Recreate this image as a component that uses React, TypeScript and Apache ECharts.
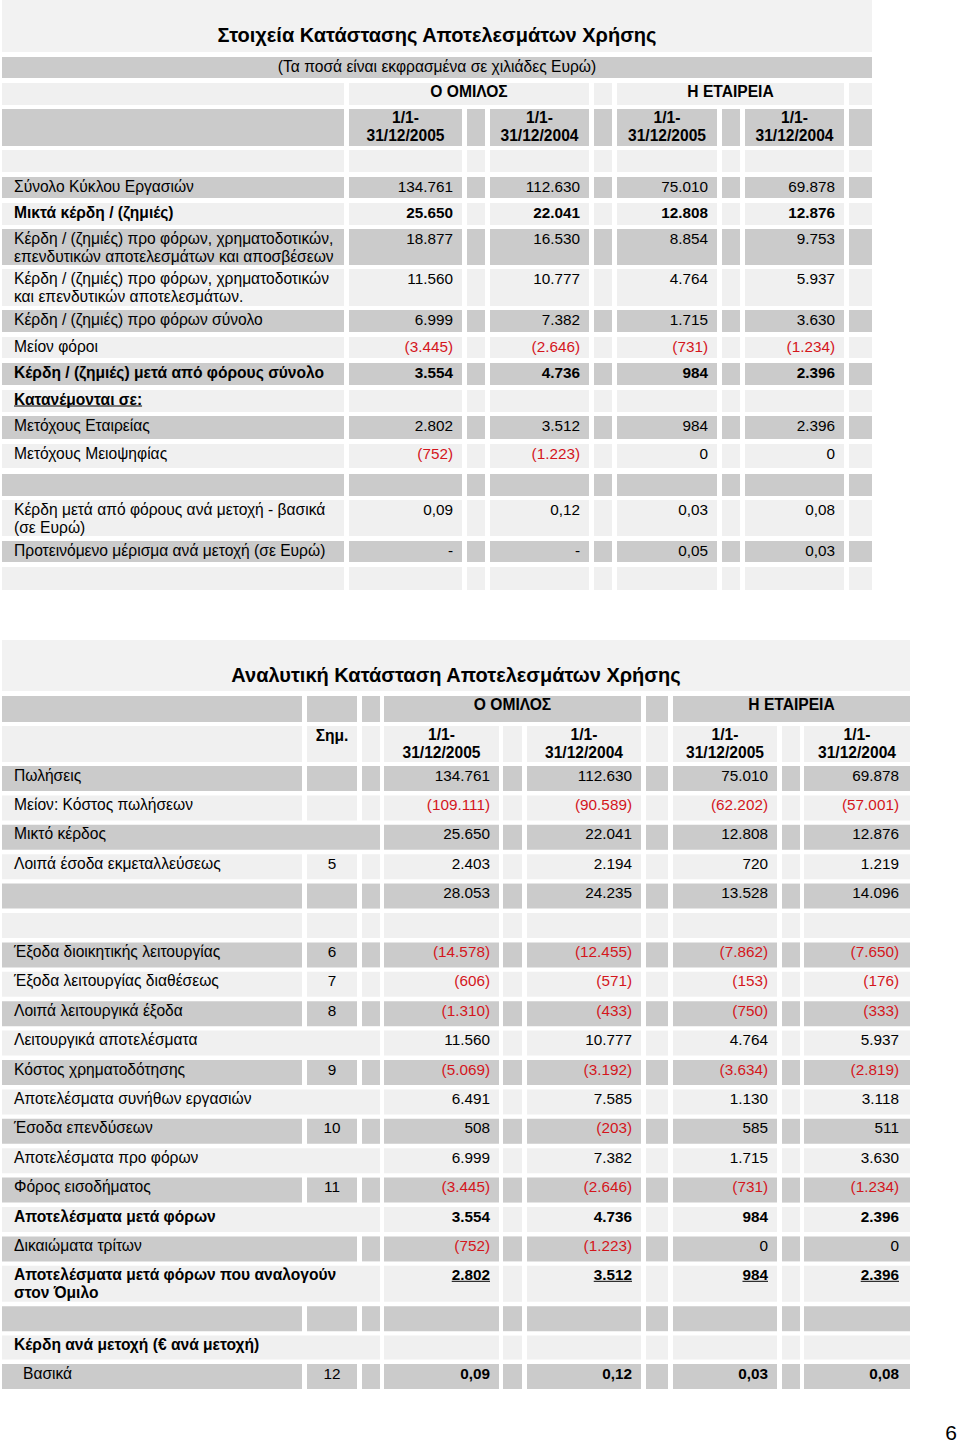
import React, { useEffect, useRef } from "react";
import * as echarts from "echarts";

const W = 960;
const H = 1442;
const FONT = '"Liberation Sans", Arial, Helvetica, sans-serif';
const DARK = "#cbcbcb";
const LIGHT = "#f0f0f0";
const TITLE_BG = "#f2f2f2";
const RED = "#d4161c";
const LABEL_SIZE = 15.6;
const VALUE_SIZE = 15.3;

// ---------- DATA: top table ----------
const topTitle = "Στοιχεία Κατάστασης Αποτελεσμάτων Χρήσης";
const topSubtitle = "(Τα ποσά είναι εκφρασμένα σε χιλιάδες Ευρώ)";
const groupNames = ["Ο ΟΜΙΛΟΣ", "Η ΕΤΑΙΡΕΙΑ"];
const periodLines = [
  ["1/1-", "31/12/2005"],
  ["1/1-", "31/12/2004"],
  ["1/1-", "31/12/2005"],
  ["1/1-", "31/12/2004"],
];
const topLabels = [
  "",
  "Σύνολο Κύκλου Εργασιών",
  "Μικτά κέρδη / (ζημιές)",
  "Κέρδη / (ζημιές) προ φόρων, χρηματοδοτικών,\nεπενδυτικών αποτελεσμάτων και αποσβέσεων",
  "Κέρδη / (ζημιές) προ φόρων, χρηματοδοτικών\nκαι επενδυτικών αποτελεσμάτων.",
  "Κέρδη / (ζημιές) προ φόρων σύνολο",
  "Μείον φόροι",
  "Κέρδη / (ζημιές) μετά από φόρους σύνολο",
  "Κατανέμονται σε:",
  "Μετόχους Εταιρείας",
  "Μετόχους Μειοψηφίας",
  "",
  "Κέρδη μετά από φόρους ανά μετοχή - βασικά\n(σε Ευρώ)",
  "Προτεινόμενο μέρισμα ανά μετοχή (σε Ευρώ)",
  "",
];
const topGroup2005 = ["", "134.761", "25.650", "18.877", "11.560", "6.999", "(3.445)", "3.554", "", "2.802", "(752)", "", "0,09", "-", ""];
const topGroup2004 = ["", "112.630", "22.041", "16.530", "10.777", "7.382", "(2.646)", "4.736", "", "3.512", "(1.223)", "", "0,12", "-", ""];
const topCompany2005 = ["", "75.010", "12.808", "8.854", "4.764", "1.715", "(731)", "984", "", "984", "0", "", "0,03", "0,05", ""];
const topCompany2004 = ["", "69.878", "12.876", "9.753", "5.937", "3.630", "(1.234)", "2.396", "", "2.396", "0", "", "0,08", "0,03", ""];

// ---------- DATA: bottom table ----------
const bottomTitle = "Αναλυτική Κατάσταση Αποτελεσμάτων Χρήσης";
const noteHeader = "Σημ.";
const bottomLabels = [
  "Πωλήσεις",
  "Μείον: Κόστος πωλήσεων",
  "Μικτό κέρδος",
  "Λοιπά έσοδα εκμεταλλεύσεως",
  "",
  "",
  "Έξοδα διοικητικής λειτουργίας",
  "Έξοδα λειτουργίας διαθέσεως",
  "Λοιπά λειτουργικά έξοδα",
  "Λειτουργικά αποτελέσματα",
  "Κόστος χρηματοδότησης",
  "Αποτελέσματα συνήθων εργασιών",
  "Έσοδα επενδύσεων",
  "Αποτελέσματα προ φόρων",
  "Φόρος εισοδήματος",
  "Αποτελέσματα μετά φόρων",
  "Δικαιώματα τρίτων",
  "Αποτελέσματα μετά φόρων που αναλογούν\nστον Όμιλο",
  "",
  "Κέρδη ανά μετοχή (€ ανά μετοχή)",
  "Βασικά",
];
const bottomNotes = ["", "", "", "5", "", "", "6", "7", "8", "", "9", "", "10", "", "11", "", "", "", "", "", "12"];
const botGroup2005 = ["134.761", "(109.111)", "25.650", "2.403", "28.053", "", "(14.578)", "(606)", "(1.310)", "11.560", "(5.069)", "6.491", "508", "6.999", "(3.445)", "3.554", "(752)", "2.802", "", "", "0,09"];
const botGroup2004 = ["112.630", "(90.589)", "22.041", "2.194", "24.235", "", "(12.455)", "(571)", "(433)", "10.777", "(3.192)", "7.585", "(203)", "7.382", "(2.646)", "4.736", "(1.223)", "3.512", "", "", "0,12"];
const botCompany2005 = ["75.010", "(62.202)", "12.808", "720", "13.528", "", "(7.862)", "(153)", "(750)", "4.764", "(3.634)", "1.130", "585", "1.715", "(731)", "984", "0", "984", "", "", "0,03"];
const botCompany2004 = ["69.878", "(57.001)", "12.876", "1.219", "14.096", "", "(7.650)", "(176)", "(333)", "5.937", "(2.819)", "3.118", "511", "3.630", "(1.234)", "2.396", "0", "2.396", "", "", "0,08"];
const pageNumber = "6";

// ---------- STYLE / LAYOUT ----------
const topBoldRows = [2, 7, 8];
const topUnderlineLabelRows = [8];
const topRowTops = [150, 177, 203, 229, 269, 310, 337, 363, 390, 416, 444, 474, 500, 541, 567];
const topRowHeights = [22, 21, 22, 36, 37, 22, 21, 22, 22, 23, 24, 22, 36, 21, 23];
const topLabelCell = [2, 344];
const topValueCells = [[349, 462], [490, 589], [617, 717], [745, 844]];
const topSpacers = [[467, 485], [594, 612], [722, 740], [849, 872]];
const topRight = 872;

const botBoldLabelRows = [15, 17, 19];
const botBoldValueRows = [15, 17, 20];
const botUnderlineValueRows = [17];
const botIndentRows = [20];
// merge: 0 = separate cells, 1 = label+note merged, 2 = label+note+spacer merged
const botMerge = [0, 0, 2, 0, 0, 0, 0, 0, 0, 2, 0, 2, 0, 2, 0, 2, 1, 2, 0, 2, 0];
const botRowHeights = [25, 25, 25, 25, 25, 25, 25, 25, 25, 25, 25, 25, 25, 25, 25, 25, 25, 36, 25, 24, 25];
const botFirstTop = 766;
const botPitch = 29.4;
const botLabelCell = [2, 302];
const botNoteCell = [307, 357];
const botNoteSpacer = [362, 380];
const botValueCells = [[384, 499], [527, 641], [673, 777], [804, 910]];
const botSpacers = [[503, 522], [646, 668], [782, 800]];
const botRight = 910;

let measureCtx: CanvasRenderingContext2D | null = null;
function measure(s: string, size: number, bold: boolean) {
  if (!measureCtx) measureCtx = document.createElement("canvas").getContext("2d");
  if (!measureCtx) return s.length * size * 0.55;
  measureCtx.font = `${bold ? "bold " : ""}${size}px ${FONT}`;
  return measureCtx.measureText(s).width;
}

function rect(x0: number, x1: number, y: number, h: number, fill: string) {
  return { type: "rect", silent: true, shape: { x: x0, y, width: x1 - x0, height: h }, style: { fill } };
}
function txt(x: number, y: number, s: string, o: any = {}) {
  return {
    type: "text",
    silent: true,
    x,
    y,
    style: {
      text: s,
      fill: o.color || "#000",
      fontSize: o.size || LABEL_SIZE,
      fontFamily: FONT,
      fontWeight: o.bold ? "bold" : "normal",
      align: o.align || "left",
      verticalAlign: "middle",
    },
  };
}
function underline(x: number, y: number, s: string, size: number, bold: boolean, align: string) {
  const w = measure(s, size, bold);
  const x0 = align === "right" ? x - w : align === "center" ? x - w / 2 : x;
  return { type: "line", silent: true, shape: { x1: x0, y1: y, x2: x0 + w, y2: y }, style: { stroke: "#000", lineWidth: 1 } };
}
const colorOf = (v: string) => (v.startsWith("(") ? RED : "#000");

function buildElements() {
  const els: any[] = [];
  // ===== TOP TABLE =====
  els.push(rect(2, topRight, 0, 52, TITLE_BG));
  els.push(txt(437, 35, topTitle, { bold: true, size: 20, align: "center" }));
  els.push(rect(2, topRight, 57, 21, DARK));
  els.push(txt(437, 66, topSubtitle, { align: "center" }));
  // group header
  {
    const y = 83, h = 22;
    els.push(rect(topLabelCell[0], topLabelCell[1], y, h, LIGHT));
    els.push(rect(topValueCells[0][0], topValueCells[1][1], y, h, LIGHT));
    els.push(rect(topSpacers[1][0], topSpacers[1][1], y, h, LIGHT));
    els.push(rect(topValueCells[2][0], topValueCells[3][1], y, h, LIGHT));
    els.push(rect(topSpacers[3][0], topSpacers[3][1], y, h, LIGHT));
    els.push(txt((topValueCells[0][0] + topValueCells[1][1]) / 2, y + 8, groupNames[0], { bold: true, align: "center" }));
    els.push(txt((topValueCells[2][0] + topValueCells[3][1]) / 2, y + 8, groupNames[1], { bold: true, align: "center" }));
  }
  // period header
  {
    const y = 109, h = 37;
    els.push(rect(topLabelCell[0], topLabelCell[1], y, h, DARK));
    topValueCells.forEach((c, i) => {
      els.push(rect(c[0], c[1], y, h, DARK));
      periodLines[i].forEach((l, j) => els.push(txt((c[0] + c[1]) / 2, y + 8.5 + j * 18, l, { bold: true, align: "center" })));
    });
    topSpacers.forEach((c) => els.push(rect(c[0], c[1], y, h, DARK)));
  }
  const topCols = [topGroup2005, topGroup2004, topCompany2005, topCompany2004];
  topLabels.forEach((label, i) => {
    const y = topRowTops[i], h = topRowHeights[i];
    const fill = i % 2 === 0 ? LIGHT : DARK;
    const bold = topBoldRows.includes(i);
    els.push(rect(topLabelCell[0], topLabelCell[1], y, h, fill));
    topValueCells.forEach((c) => els.push(rect(c[0], c[1], y, h, fill)));
    topSpacers.forEach((c) => els.push(rect(c[0], c[1], y, h, fill)));
    label.split("\n").forEach((l, j) => {
      els.push(txt(14, y + 9 + j * 18, l, { bold }));
      if (topUnderlineLabelRows.includes(i)) els.push(underline(14, y + 16, l, LABEL_SIZE, bold, "left"));
    });
    topCols.forEach((col, k) => {
      const v = col[i];
      if (v) els.push(txt(topValueCells[k][1] - 9, y + 9, v, { bold, size: VALUE_SIZE, align: "right", color: colorOf(v) }));
    });
  });

  // ===== BOTTOM TABLE =====
  els.push(rect(2, botRight, 640, 51, TITLE_BG));
  els.push(txt(456, 675, bottomTitle, { bold: true, size: 20, align: "center" }));
  {
    const y = 696, h = 26;
    els.push(rect(botLabelCell[0], botLabelCell[1], y, h, DARK));
    els.push(rect(botNoteCell[0], botNoteCell[1], y, h, DARK));
    els.push(rect(botNoteSpacer[0], botNoteSpacer[1], y, h, DARK));
    els.push(rect(botValueCells[0][0], botValueCells[1][1], y, h, DARK));
    els.push(rect(botSpacers[1][0], botSpacers[1][1], y, h, DARK));
    els.push(rect(botValueCells[2][0], botValueCells[3][1], y, h, DARK));
    els.push(txt((botValueCells[0][0] + botValueCells[1][1]) / 2, y + 8.5, groupNames[0], { bold: true, align: "center" }));
    els.push(txt((botValueCells[2][0] + botValueCells[3][1]) / 2, y + 8.5, groupNames[1], { bold: true, align: "center" }));
  }
  {
    const y = 726, h = 36;
    els.push(rect(botLabelCell[0], botLabelCell[1], y, h, LIGHT));
    els.push(rect(botNoteCell[0], botNoteCell[1], y, h, LIGHT));
    els.push(rect(botNoteSpacer[0], botNoteSpacer[1], y, h, LIGHT));
    els.push(txt((botNoteCell[0] + botNoteCell[1]) / 2, y + 9, noteHeader, { bold: true, align: "center" }));
    botValueCells.forEach((c, i) => {
      els.push(rect(c[0], c[1], y, h, LIGHT));
      periodLines[i].forEach((l, j) => els.push(txt((c[0] + c[1]) / 2, y + 8 + j * 18, l, { bold: true, align: "center" })));
    });
    botSpacers.forEach((c) => els.push(rect(c[0], c[1], y, h, LIGHT)));
  }
  const botCols = [botGroup2005, botGroup2004, botCompany2005, botCompany2004];
  let y = botFirstTop;
  bottomLabels.forEach((label, i) => {
    const h = botRowHeights[i];
    const fill = i % 2 === 0 ? DARK : LIGHT;
    const m = botMerge[i];
    if (m === 0) {
      els.push(rect(botLabelCell[0], botLabelCell[1], y, h, fill));
      els.push(rect(botNoteCell[0], botNoteCell[1], y, h, fill));
      els.push(rect(botNoteSpacer[0], botNoteSpacer[1], y, h, fill));
    } else if (m === 1) {
      els.push(rect(botLabelCell[0], botNoteCell[1], y, h, fill));
      els.push(rect(botNoteSpacer[0], botNoteSpacer[1], y, h, fill));
    } else {
      els.push(rect(botLabelCell[0], botNoteSpacer[1], y, h, fill));
    }
    botValueCells.forEach((c) => els.push(rect(c[0], c[1], y, h, fill)));
    botSpacers.forEach((c) => els.push(rect(c[0], c[1], y, h, fill)));
    const lx = botIndentRows.includes(i) ? 23 : 14;
    label.split("\n").forEach((l, j) => els.push(txt(lx, y + 9 + j * 18, l, { bold: botBoldLabelRows.includes(i) })));
    if (bottomNotes[i]) els.push(txt((botNoteCell[0] + botNoteCell[1]) / 2, y + 9, bottomNotes[i], { size: VALUE_SIZE, align: "center" }));
    botCols.forEach((col, k) => {
      const v = col[i];
      if (!v) return;
      const bold = botBoldValueRows.includes(i);
      const x = botValueCells[k][1] - (k === 3 ? 11 : 9);
      els.push(txt(x, y + 9, v, { bold, size: VALUE_SIZE, align: "right", color: colorOf(v) }));
      if (botUnderlineValueRows.includes(i)) els.push(underline(x, y + 15.5, v, VALUE_SIZE, bold, "right"));
    });
    y += i < bottomLabels.length - 1 ? h + (botPitch - 25) : 0;
  });

  els.push(txt(951, 1432, pageNumber, { size: 21, align: "center" }));
  return els;
}

export default function App() {
  const ref = useRef<HTMLDivElement>(null);
  useEffect(() => {
    document.body.style.margin = "0";
    if (!ref.current) return;
    const chart = echarts.init(ref.current, undefined, { renderer: "svg", width: W, height: H });
    chart.setOption({
      animation: false,
      backgroundColor: "#ffffff",
      graphic: { elements: buildElements() },
    });
    return () => chart.dispose();
  }, []);
  return <div ref={ref} style={{ width: W, height: H, position: "absolute", left: 0, top: 0 }} />;
}
